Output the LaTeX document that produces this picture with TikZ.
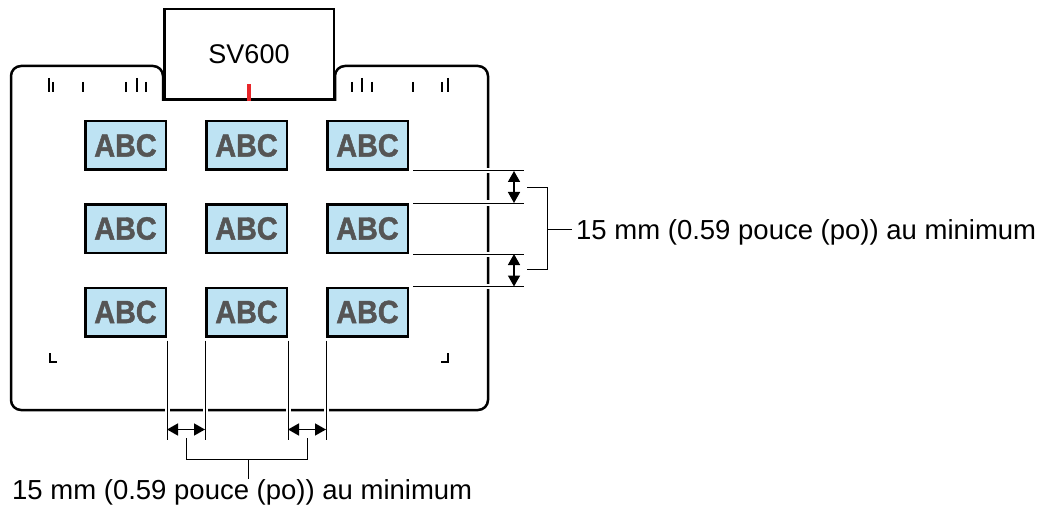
\documentclass[tikz,border=0pt]{standalone}
\usepackage{fontspec}
\setmainfont{Liberation Sans}
\newfontfamily\abcfont[FakeBold=1.5]{Liberation Sans Bold}
\usepackage{xcolor}
\usepackage{tikz}
\usetikzlibrary{arrows.meta}

\definecolor{abcfill}{RGB}{190,227,243}
\definecolor{abctext}{RGB}{85,85,85}
\definecolor{markred}{RGB}{232,38,42}

\tikzset{
  abcbox/.style={draw, line width=2.5pt, fill=abcfill, minimum width=80.5pt, minimum height=48.5pt,
    inner sep=0pt, text=abctext, font=\abcfont\fontsize{32}{32}\selectfont},
  extline/.style={line width=1pt, preaction={draw=white, line width=5pt}},
  dimarrow/.style={line width=1.5pt, {Triangle[length=11pt,width=12pt]}-{Triangle[length=11pt,width=12pt]}},
  tickmark/.style={line width=2pt},
  bracket/.style={line width=1pt},
  dimlabel/.style={font=\fontsize{27.5}{30}\selectfont, inner sep=0pt}
}

\begin{document}
\begin{tikzpicture}[x=1pt, y=-1pt]
    \useasboundingbox (0,0) rectangle (1046,513);

    % Draw the mat
    \draw[line width=2.5pt, rounded corners=10pt] (163,101) -- (163,66) -- (11,66) -- (11,410)
        -- (488,410) -- (488,66) -- (335,66) -- (335,101);

    % Draw the scanner head
    \node[draw, line width=2.5pt, fill=white, minimum width=169.5pt, minimum height=90.5pt,
        font=\fontsize{27}{30}\selectfont] (head) at (249,54.5) {SV600};
    \draw[markred, line width=4.5pt] (head.south) -- ++(0,-17);

    % Draw the ticks on the mat
    \draw[tickmark] (49,78) -- (49,92);
    \draw[tickmark] (53,82) -- (53,92);
    \draw[tickmark] (83,82) -- (83,92);
    \draw[tickmark] (126,82) -- (126,92);
    \draw[tickmark] (137,78) -- (137,92);
    \draw[tickmark] (146,82) -- (146,92);
    \draw[tickmark] (352,82) -- (352,92);
    \draw[tickmark] (362,78) -- (362,92);
    \draw[tickmark] (372,82) -- (372,92);
    \draw[tickmark] (413,82) -- (413,92);
    \draw[tickmark] (442,82) -- (442,92);
    \draw[tickmark] (448,78) -- (448,92);
    \draw[tickmark] (50,353) -- (50,362) -- (57,362);
    \draw[tickmark] (448,353) -- (448,362) -- (441,362);

    % Draw the documents
    \node[abcbox] (b11) at (125.5,145.5) {\scalebox{0.9}[1]{ABC}};
    \node[abcbox] (b12) at (246.5,145.5) {\scalebox{0.9}[1]{ABC}};
    \node[abcbox] (b13) at (367.5,145.5) {\scalebox{0.9}[1]{ABC}};
    \node[abcbox] (b21) at (125.5,228.5) {\scalebox{0.9}[1]{ABC}};
    \node[abcbox] (b22) at (246.5,228.5) {\scalebox{0.9}[1]{ABC}};
    \node[abcbox] (b23) at (367.5,228.5) {\scalebox{0.9}[1]{ABC}};
    \node[abcbox] (b31) at (125.5,312) {\scalebox{0.9}[1]{ABC}};
    \node[abcbox] (b32) at (246.5,312) {\scalebox{0.9}[1]{ABC}};
    \node[abcbox] (b33) at (367.5,312) {\scalebox{0.9}[1]{ABC}};

    % Draw the extension lines
    \draw[extline] ([xshift=4pt]b13.south east) -- ++(111,0) coordinate (r1);
    \draw[extline] ([xshift=4pt]b23.north east) -- ++(111,0) coordinate (r2);
    \draw[extline] ([xshift=4pt]b23.south east) -- ++(111,0) coordinate (r3);
    \draw[extline] ([xshift=4pt]b33.north east) -- ++(111,0) coordinate (r4);
    \draw[extline] ([yshift=-3pt]b31.south east) -- ++(0,99) coordinate (d1);
    \draw[extline] ([yshift=-3pt]b32.south west) -- ++(0,99) coordinate (d2);
    \draw[extline] ([yshift=-3pt]b32.south east) -- ++(0,99) coordinate (d3);
    \draw[extline] ([yshift=-3pt]b33.south west) -- ++(0,99) coordinate (d4);

    % Draw the arrows
    \draw[dimarrow] ([xshift=-10pt]r1) -- ([xshift=-10pt]r2);
    \draw[dimarrow] ([xshift=-10pt]r3) -- ([xshift=-10pt]r4);
    \draw[dimarrow] ([yshift=10pt]d1) -- ([yshift=10pt]d2);
    \draw[dimarrow] ([yshift=10pt]d3) -- ([yshift=10pt]d4);

    % Add the text
    \node[dimlabel, anchor=base west] (minright) at (576,239.5) {15 mm (0.59 pouce (po)) au minimum};
    \node[dimlabel, anchor=base west] (minbottom) at (12,499) {15 mm (0.59 pouce (po)) au minimum};

    % Draw the brackets
    \draw[bracket] (527,188) -- (547,188) -- (547,269) -- (527,269);
    \draw[bracket, shorten >=4pt] (547,229) -- (minright.west |- 547,229);
    \draw[bracket] (186,438) -- (186,459) -- (307,459) -- (307,438);
    \draw[bracket] (248,459) -- (minbottom.north -| 248,459);
\end{tikzpicture}
\end{document}
